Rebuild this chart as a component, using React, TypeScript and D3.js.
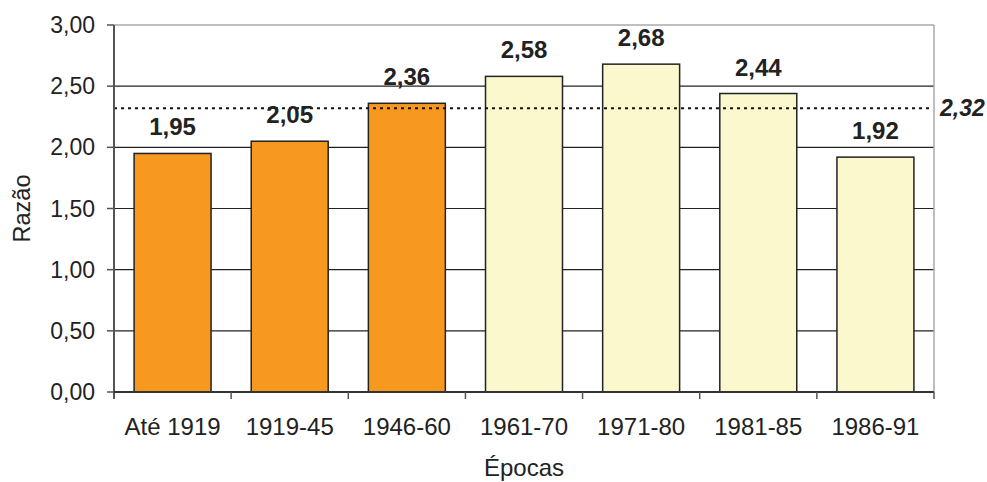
import React from "react";
import * as d3 from "d3";

const categories = ["Até 1919", "1919-45", "1946-60", "1961-70", "1971-80", "1981-85", "1986-91"];
const values = [1.95, 2.05, 2.36, 2.58, 2.68, 2.44, 1.92];
const groups = ["A", "A", "A", "B", "B", "B", "B"];
const average = 2.32;
const yTicks = [0, 0.5, 1, 1.5, 2, 2.5, 3];
const yTitle = "Razão";
const xTitle = "Épocas";

const W = 987;
const H = 482;
const left = 114;
const right = 934;
const top = 25;
const bottom = 392;
const FONT = "'Liberation Sans', Arial, sans-serif";

const fmt = (v: number) => v.toFixed(2).replace(".", ",");

export default function App() {
  const x = d3
    .scaleBand<string>()
    .domain(categories)
    .range([left, right])
    .paddingInner(0.343)
    .paddingOuter(0.1715);
  const y = d3.scaleLinear().domain([0, 3]).range([bottom, top]);
  const color = d3.scaleOrdinal<string, string>().domain(["A", "B"]).range(["#F7981F", "#FAF8CC"]);
  const step = x.step();

  return (
    <svg
      width={W}
      height={H}
      style={{ position: "absolute", left: 0, top: 0, background: "#fff" }}
      fontFamily={FONT}
    >
      {yTicks.filter((t) => t > 0 && t < 3).map((t) => (
        <line key={"g" + t} x1={left} x2={right} y1={y(t)} y2={y(t)} stroke="#222" strokeWidth={1.2} />
      ))}
      <line x1={left} x2={right} y1={y(3)} y2={y(3)} stroke="#aaa" strokeWidth={1.5} />
      <line x1={right} x2={right} y1={y(3)} y2={bottom} stroke="#aaa" strokeWidth={1.5} />

      {categories.map((c, i) => (
        <rect
          key={c}
          x={x(c)}
          y={y(values[i])}
          width={x.bandwidth()}
          height={bottom - y(values[i])}
          fill={color(groups[i])}
          stroke="#222"
          strokeWidth={1.5}
        />
      ))}

      <line
        x1={left}
        x2={right - 3}
        y1={y(average)}
        y2={y(average)}
        stroke="#111"
        strokeWidth={2}
        strokeDasharray="3,4"
      />
      <text
        x={940}
        y={y(average)}
        dy="0.35em"
        fontSize={23}
        fontWeight="bold"
        fontStyle="italic"
        fill="#222"
      >
        {fmt(average)}
      </text>

      {categories.map((c, i) => (
        <text
          key={"l" + c}
          x={(x(c) as number) + x.bandwidth() / 2}
          y={y(values[i]) - 18}
          textAnchor="middle"
          fontSize={24}
          fontWeight="bold"
          fill="#222"
        >
          {fmt(values[i])}
        </text>
      ))}

      <line x1={left} x2={left} y1={y(3)} y2={bottom + 7} stroke="#555" strokeWidth={2} />
      <line x1={left} x2={right} y1={bottom} y2={bottom} stroke="#333" strokeWidth={2} />
      {yTicks.map((t) => (
        <g key={"yt" + t}>
          <line x1={left - 7} x2={left} y1={y(t)} y2={y(t)} stroke="#555" strokeWidth={1.5} />
          <text x={95} y={y(t) + 8} textAnchor="end" fontSize={23} fill="#222">
            {fmt(t)}
          </text>
        </g>
      ))}
      {categories.map((c, i) => (
        <g key={"xt" + c}>
          <line
            x1={left + step * (i + 1)}
            x2={left + step * (i + 1)}
            y1={bottom}
            y2={bottom + 7}
            stroke="#555"
            strokeWidth={1.5}
          />
          <text
            x={(x(c) as number) + x.bandwidth() / 2}
            y={435}
            textAnchor="middle"
            fontSize={24}
            fill="#222"
          >
            {c}
          </text>
        </g>
      ))}

      <text
        transform={`translate(30, ${(top + bottom) / 2}) rotate(-90)`}
        textAnchor="middle"
        fontSize={23.5}
        fill="#222"
      >
        {yTitle}
      </text>
      <text x={(left + right) / 2} y={476} textAnchor="middle" fontSize={24} fill="#222">
        {xTitle}
      </text>
    </svg>
  );
}
